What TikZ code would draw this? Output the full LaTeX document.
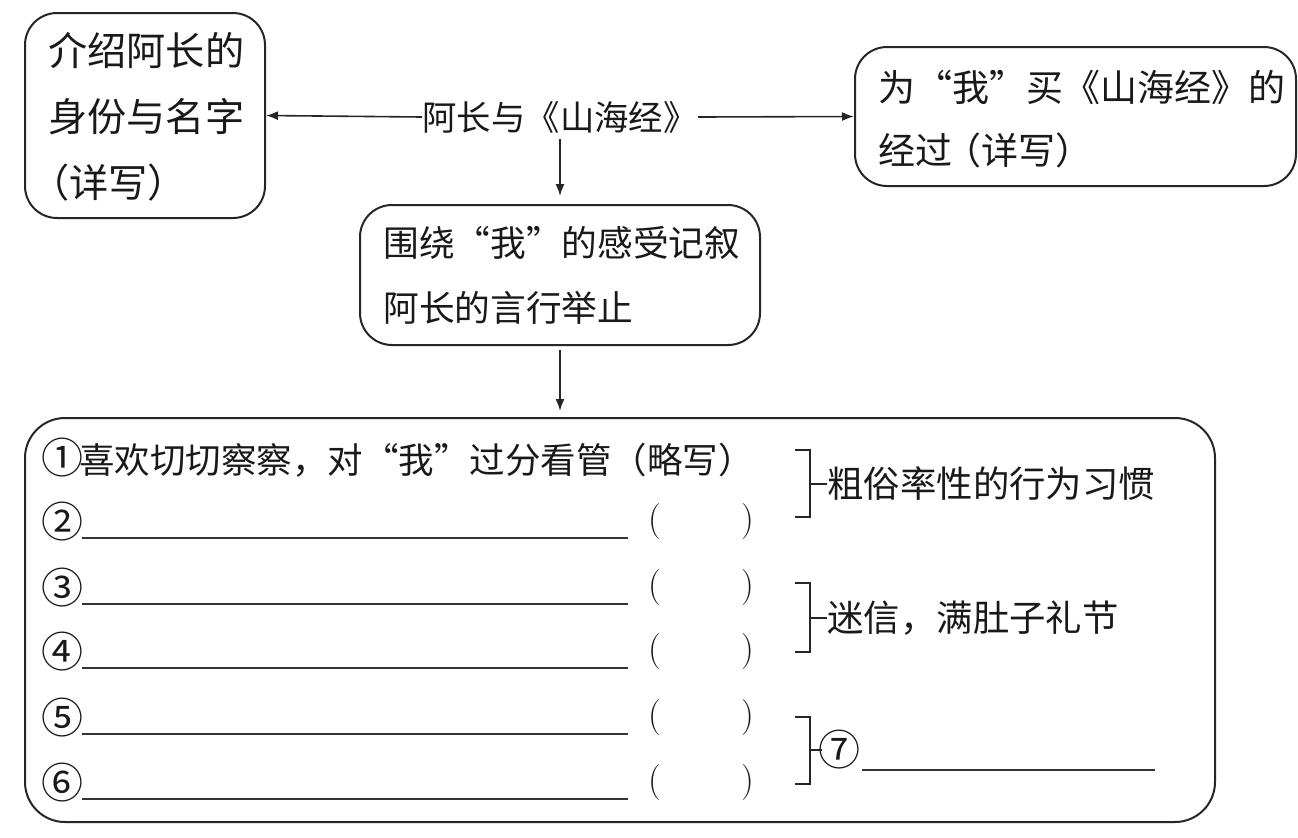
\documentclass[tikz,border=0pt]{standalone}
\usepackage{fontspec}
\newfontfamily\cjk{Noto Sans CJK SC}
\usetikzlibrary{arrows.meta}
\newcommand{\cnum}[1]{{\fontsize{21}{21}\selectfont #1}}
\begin{document}
\begin{tikzpicture}[x=0.5pt,y=-0.5pt,
  box/.style={draw=black!85, line width=1pt, rounded corners=16pt, inner sep=0pt},
  bigbox/.style={draw=black!85, line width=1pt, rounded corners=20pt, inner sep=0pt},
  lefttxt/.style={inner sep=0pt, anchor=west, text=black!90, font=\cjk\fontsize{19.6}{20}\selectfont},
  righttxt/.style={inner sep=0pt, anchor=west, text=black!90, font=\cjk\fontsize{18.5}{19}\selectfont},
  boxtxt/.style={inner sep=0pt, anchor=west, text=black!90, font=\cjk\fontsize{17.85}{19}\selectfont},
  midtxt/.style={inner sep=0pt, text=black!90, font=\cjk\fontsize{17.2}{18}\selectfont},
  rowtxt/.style={inner sep=0pt, anchor=west, text=black!90, font=\cjk\fontsize{17.75}{19}\selectfont},
  numtxt/.style={inner sep=0pt, anchor=west, text=black!90, font=\cjk\fontsize{21}{21}\selectfont},
  lbltxt/.style={inner sep=0pt, anchor=west, text=black!90, font=\cjk\fontsize{18.2}{19}\selectfont},
  partxt/.style={inner sep=0pt, text=black!90, font=\fontsize{18}{19}\selectfont},
  arr/.style={draw=black!85, line width=0.8pt, -{Latex[length=6pt,width=4.5pt]}},
  rule/.style={draw=black!80, line width=0.8pt},
  brk/.style={draw=black!85, line width=1pt}
]
\useasboundingbox (0,0) rectangle (1298,837);

% boxes
\node[box, minimum width=120pt, minimum height=102.5pt] (b1) at (145,115.5) {};
\node[box, minimum width=220.5pt, minimum height=69.5pt] (b2) at (1075.5,116.5) {};
\node[box, minimum width=200pt, minimum height=70pt] (b3) at (560,275) {};
\node[bigbox, minimum width=595pt, minimum height=202pt] (big) at (620,620) {};

% box texts
\node[lefttxt] (t1a) at (48,50) {介绍阿长的};
\node[lefttxt] (t1b) at (48,117) {身份与名字};
\node[lefttxt] (t1c) at (30,183) {（详写）};
\node[righttxt] (t2a) at (878,87) {为“我”买《山海经》的};
\node[righttxt] (t2b) at (878,150) {经过\kern-4pt（详写）};
\node[boxtxt] (t3a) at (383,243) {围绕“我”的感受记叙};
\node[boxtxt] (t3b) at (383,308) {阿长的言行举止};

% center label
\node[midtxt] (lab) at (560,117) {阿长与《山海经》};

% arrows
\draw[arr] (lab.west) -- (b1.east);
\draw[arr] (lab.east) -- (b2.west);
\draw[arr, shorten <=3pt, shorten >=4pt] (lab.south) -- (b3.north);
\draw[arr, shorten <=2pt, shorten >=3pt] (b3.south) -- (b3.south |- big.north);

% rows
\node[rowtxt] (r1) at (41,458) {\cnum{①}\kern-2pt 喜欢切切察察，对“我”过分看管（略写）};
\foreach \n/\y/\c in {2/522/②,3/588/③,4/652/④,5/718/⑤,6/783/⑥}{
  \node[numtxt] (n\n) at (41,\y) {\c};
  \draw[rule] (82,\y+16) -- (628,\y+16);
  \node[partxt] (po\n) at (655,\y) {(};
  \node[partxt] (pc\n) at (748,\y) {)};
}

% brackets
\foreach \k/\top/\bot/\mid in {1/450/517/484, 2/583/652/618, 3/717/784/750}{
  \draw[brk] (795,\top) -- (810,\top) -- (810,\bot) -- (795,\bot);
  \coordinate (m\k) at (810,\mid);
}
\node[lbltxt] (l1) at (827,484) {粗俗率性的行为习惯};
\node[lbltxt] (l2) at (827,618) {迷信，满肚子礼节};
\node[numtxt] (l3) at (818,750) {⑦};
\draw[brk] (m1) -- (l1.west);
\draw[brk] (m2) -- (l2.west);
\draw[brk] (m3) -- ([xshift=2pt]l3.west);
\draw[rule] (862,770) -- (1155,770);
\end{tikzpicture}
\end{document}
